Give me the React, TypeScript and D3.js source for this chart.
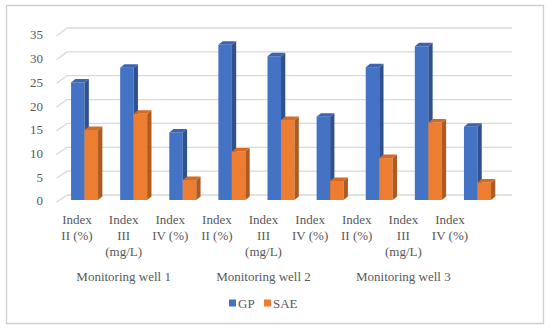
import { scaleBand, scaleLinear } from "d3";

const wells = ["Monitoring well 1", "Monitoring well 2", "Monitoring well 3"];
const indices = [["Index", "II (%)"], ["Index", "III", "(mg/L)"], ["Index", "IV (%)"]];
const series = ["GP", "SAE"];
const gpValues = [24.7, 27.8, 14.2, 32.6, 30.2, 17.5, 27.9, 32.3, 15.4];
const saeValues = [14.7, 18.1, 4.2, 10.2, 16.8, 4.0, 8.8, 16.3, 3.7];
const yTicks = [0, 5, 10, 15, 20, 25, 30, 35];

const COLORS = {
  GP: { front: "#4472C4", side: "#2F528F", top: "#3B65B0" },
  SAE: { front: "#ED7D31", side: "#AE5A21", top: "#D46A25" },
} as const;

const FONT = "Liberation Serif, Times New Roman, DejaVu Serif, serif";
const DX = 4.3;
const DY = -3.5;
const BAR_W = 13.5;

export default function App() {
  const cats = wells.flatMap((w, wi) => indices.map((_, ii) => `${wi}-${ii}`));
  const valuesBySeries: Record<string, number[]> = { GP: gpValues, SAE: saeValues };

  const xBar = scaleBand<string>().domain(cats).range([60, 502]);
  const xSer = scaleBand<string>().domain(series).range([0, BAR_W * 2]);
  const xLab = scaleBand<string>().domain(cats).range([53.7, 473.3]);
  const xWell = scaleBand<string>().domain(wells).range([53.7, 473.3]);

  const yBar = scaleLinear().domain([0, 35]).range([200, 33.4]);
  const yBack = scaleLinear().domain([0, 35]).range([195, 28]);
  const yFront = scaleLinear().domain([0, 35]).range([202, 36]);

  const textStyle = { fontFamily: FONT, fontSize: 13, fill: "#595959" };

  return (
    <div style={{ position: "absolute", left: 0, top: 0, width: 550, height: 329, background: "#fff" }}>
      <svg width={550} height={329} style={{ display: "block" }}>
        <path d="M6.5,5.5 H543.5 V323.5 H6.5 Z" fill="none" stroke="#CFCFCF" strokeWidth={1.3} />
        {yTicks.map((t) => (
          <g key={t}>
            <line x1={67} x2={512} y1={yBack(t)} y2={yBack(t)} stroke="#D9D9D9" strokeWidth={1.3} />
            <line x1={56.5} x2={67} y1={yFront(t)} y2={yBack(t)} stroke="#D9D9D9" strokeWidth={1.3} />
            <text x={43} y={yFront(t) + 0.5} textAnchor="end" dominantBaseline="middle" style={textStyle}>
              {t}
            </text>
          </g>
        ))}
        {cats.map((c, ci) =>
          series.map((s) => {
            const v = valuesBySeries[s][ci];
            const x = (xBar(c) ?? 0) + (xBar.bandwidth() - BAR_W * 2) / 2 + (xSer(s) ?? 0);
            const w = xSer.bandwidth();
            const yt = yBar(v);
            const yb = yBar(0);
            const col = COLORS[s as keyof typeof COLORS];
            return (
              <g key={`${c}-${s}`}>
                <rect x={x} y={yt} width={w} height={yb - yt} fill={col.front} />
                <polygon
                  points={`${x + w},${yt} ${x + w + DX},${yt + DY} ${x + w + DX},${yb + DY} ${x + w},${yb}`}
                  fill={col.side}
                />
                <polygon
                  points={`${x},${yt} ${x + DX},${yt + DY} ${x + w + DX},${yt + DY} ${x + w},${yt}`}
                  fill={col.top}
                />
              </g>
            );
          }),
        )}
        {cats.map((c, ci) => {
          const lines = indices[ci % 3];
          const cx = (xLab(c) ?? 0) + xLab.bandwidth() / 2;
          return (
            <text key={c} textAnchor="middle" style={textStyle}>
              {lines.map((l, li) => (
                <tspan key={li} x={cx} y={223.5 + li * 16.3}>
                  {l}
                </tspan>
              ))}
            </text>
          );
        })}
        {wells.map((w) => (
          <text
            key={w}
            x={(xWell(w) ?? 0) + xWell.bandwidth() / 2}
            y={281}
            textAnchor="middle"
            style={textStyle}
          >
            {w}
          </text>
        ))}
        {series.map((s, i) => {
          const lx = 229 + i * 35;
          return (
            <g key={s}>
              <rect x={lx} y={299.5} width={7} height={7} fill={COLORS[s as keyof typeof COLORS].front} />
              <text x={lx + 9} y={307.5} style={textStyle}>
                {s}
              </text>
            </g>
          );
        })}
      </svg>
    </div>
  );
}
